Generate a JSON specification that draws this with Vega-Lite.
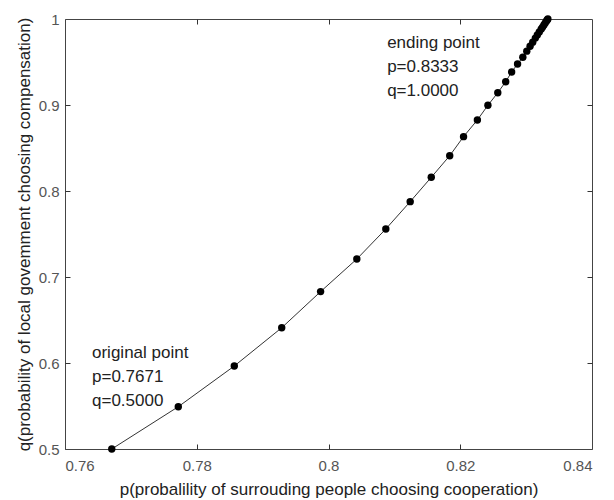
{
  "$schema": "https://vega.github.io/schema/vega-lite/v6.json",
  "width": 527,
  "height": 430,
  "autosize": {"type": "none"},
  "padding": {"left": 65, "top": 19, "right": 22, "bottom": 51},
  "background": "white",
  "config": {
    "view": {"stroke": "#444", "strokeWidth": 1},
    "axis": {
      "grid": false,
      "domainColor": "#444",
      "domainWidth": 1,
      "tickColor": "#333",
      "tickWidth": 1,
      "tickSize": 5,
      "labelFont": "Liberation Sans",
      "labelFontSize": 15,
      "labelColor": "#555",
      "titleFont": "Liberation Sans",
      "titleFontSize": 17,
      "titleFontWeight": "normal",
      "titleColor": "#222"
    }
  },
  "datasets": {
    "path": [
      {"p": 0.7671, "q": 0.5},
      {"p": 0.7772, "q": 0.5492},
      {"p": 0.7857, "q": 0.5965},
      {"p": 0.7929, "q": 0.641},
      {"p": 0.7988, "q": 0.683},
      {"p": 0.8043, "q": 0.7209},
      {"p": 0.8087, "q": 0.7558},
      {"p": 0.8124, "q": 0.7876},
      {"p": 0.8156, "q": 0.8159},
      {"p": 0.8184, "q": 0.841},
      {"p": 0.8205, "q": 0.8632},
      {"p": 0.8226, "q": 0.8826},
      {"p": 0.8242, "q": 0.8997},
      {"p": 0.8257, "q": 0.9143},
      {"p": 0.8269, "q": 0.9271},
      {"p": 0.8278, "q": 0.9384},
      {"p": 0.8287, "q": 0.9477},
      {"p": 0.8295, "q": 0.9555},
      {"p": 0.8301, "q": 0.9626},
      {"p": 0.8306, "q": 0.9684},
      {"p": 0.831, "q": 0.9731},
      {"p": 0.8314, "q": 0.9778},
      {"p": 0.8317, "q": 0.9813},
      {"p": 0.832, "q": 0.9848},
      {"p": 0.8323, "q": 0.9883},
      {"p": 0.8325, "q": 0.9906},
      {"p": 0.8327, "q": 0.993},
      {"p": 0.8329, "q": 0.9953},
      {"p": 0.8331, "q": 0.9977},
      {"p": 0.8332, "q": 0.9988},
      {"p": 0.8333, "q": 1.0}
    ],
    "notes": [
      {"p": 0.8089, "q": 0.981, "label": "ending point\np=0.8333\nq=1.0000"},
      {"p": 0.7641, "q": 0.621, "label": "original point\np=0.7671\nq=0.5000"}
    ]
  },
  "layer": [
    {
      "data": {"name": "path"},
      "mark": {"type": "line", "color": "#333", "strokeWidth": 1},
      "encoding": {
        "x": {
          "field": "p", "type": "quantitative",
          "scale": {"domain": [0.76, 0.84], "nice": false},
          "axis": {"orient": "bottom", "values": [0.76, 0.78, 0.8, 0.82, 0.84], "format": "~g", "ticks": false, "labelPadding": 9, "titlePadding": 8,
                   "title": "p(probalility of surrouding people choosing cooperation)"}
        },
        "y": {
          "field": "q", "type": "quantitative",
          "scale": {"domain": [0.5, 1], "nice": false, "zero": false},
          "axis": {"orient": "left", "values": [0.5, 0.6, 0.7, 0.8, 0.9, 1], "format": "~g", "ticks": false, "labelPadding": 6, "titlePadding": 5,
                   "title": "q(probability of local govemment choosing compensation)"}
        }
      }
    },
    {
      "data": {"name": "path"},
      "mark": {"type": "point", "filled": true, "color": "#000", "opacity": 1, "size": 55},
      "encoding": {
        "x": {
          "field": "p", "type": "quantitative",
          "scale": {"domain": [0.76, 0.84], "nice": false},
          "axis": {"orient": "top", "offset": -430, "values": [0.78, 0.8, 0.82], "domain": false, "labels": false, "title": null}
        },
        "y": {
          "field": "q", "type": "quantitative",
          "scale": {"domain": [0.5, 1], "nice": false, "zero": false},
          "axis": {"orient": "right", "offset": -527, "values": [0.6, 0.7, 0.8, 0.9], "domain": false, "labels": false, "title": null}
        }
      }
    },
    {
      "data": {"name": "notes"},
      "mark": {"type": "text", "align": "left", "baseline": "top", "fontSize": 17, "lineBreak": "\n", "lineHeight": 24, "font": "Liberation Sans", "color": "#222"},
      "encoding": {
        "x": {"field": "p", "type": "quantitative", "scale": {"domain": [0.76, 0.84], "nice": false},
              "axis": {"orient": "bottom", "offset": -430, "values": [0.78, 0.8, 0.82], "domain": false, "labels": false, "title": null}},
        "y": {"field": "q", "type": "quantitative", "scale": {"domain": [0.5, 1], "nice": false, "zero": false},
              "axis": {"orient": "left", "offset": -527, "values": [0.6, 0.7, 0.8, 0.9], "domain": false, "labels": false, "title": null}},
        "text": {"field": "label"}
      }
    }
  ],
  "resolve": {"axis": {"x": "independent", "y": "independent"}}
}
